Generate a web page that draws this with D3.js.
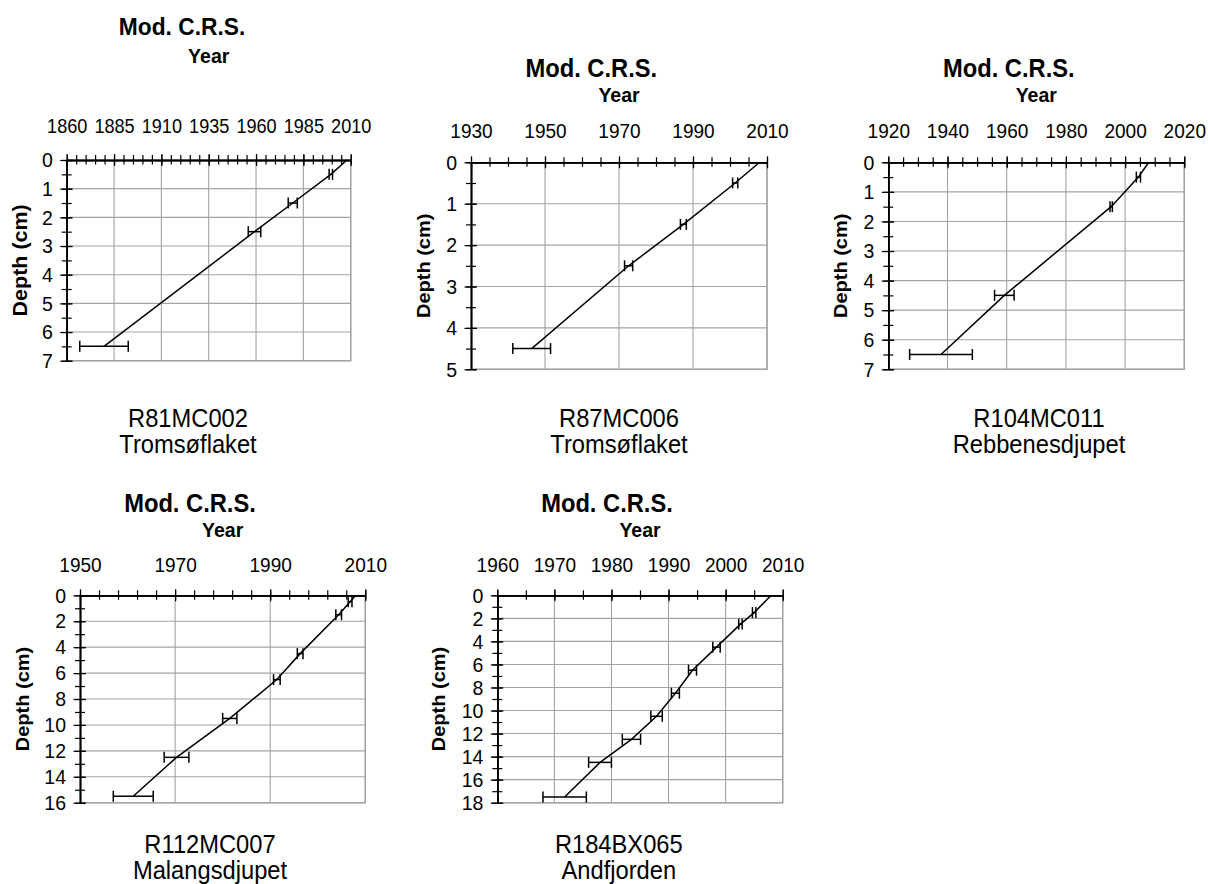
<!DOCTYPE html>
<html>
<head>
<meta charset="utf-8">
<script src="https://cdn.jsdelivr.net/npm/d3@7"></script>
<style>
  html, body { margin: 0; padding: 0; background: #fff; }
  svg { display: block; font-family: "Liberation Sans", Arial, Helvetica, sans-serif; }
</style>
</head>
<body>
<svg id="chart" width="1208" height="884"></svg>
<script>
// ---- Cores and sites ----
const cores = ["R81MC002", "R87MC006", "R104MC011", "R112MC007", "R184BX065"];
const sites = ["Tromsøflaket", "Tromsøflaket", "Rebbenesdjupet", "Malangsdjupet", "Andfjorden"];

// ---- Modified CRS age-depth models: slice mid-depth (cm), year AD, ± error (yr) ----
const depthR81 = [0, 0.5, 1.5, 2.5, 6.5];
const yearR81  = [2008, 1999.5, 1979.4, 1959.2, 1879.7];
const errR81   = [0, 0.9, 2.4, 3.3, 12.8];

const depthR87 = [0, 0.5, 1.5, 2.5, 4.5];
const yearR87  = [2008, 2001.4, 1987.4, 1972.6, 1946.4];
const errR87   = [0, 0.7, 0.8, 1.1, 5.1];

const depthR104 = [0, 0.5, 1.5, 4.5, 6.5];
const yearR104  = [2008, 2004.5, 1995.3, 1959.2, 1937.8];
const errR104   = [0, 0.7, 0.4, 3.3, 10.6];

const depthR112 = [0, 0.5, 1.5, 4.5, 6.5, 9.5, 12.5, 15.5];
const yearR112  = [2008, 2006.8, 2004.4, 1996.3, 1991.4, 1981.5, 1970.3, 1961.2];
const errR112   = [0, 0.4, 0.6, 0.6, 0.7, 1.5, 2.6, 4.2];

const depthR184 = [0, 1.5, 2.5, 4.5, 6.5, 8.5, 10.5, 12.5, 14.5, 17.5];
const yearR184  = [2008, 2005, 2002.6, 1998.4, 1994.2, 1991.2, 1987.9, 1983.5, 1978, 1971.8];
const errR184   = [0, 0.3, 0.3, 0.65, 0.7, 0.7, 1.0, 1.6, 2.0, 3.8];

// ---- Year-axis tick labels and minor step ----
const yearTicksR81  = [1860, 1885, 1910, 1935, 1960, 1985, 2010];
const yearTicksR87  = [1930, 1950, 1970, 1990, 2010];
const yearTicksR104 = [1920, 1940, 1960, 1980, 2000, 2020];
const yearTicksR112 = [1950, 1970, 1990, 2010];
const yearTicksR184 = [1960, 1970, 1980, 1990, 2000, 2010];
const yearMinorStep = [5, 5, 5, 4, 5];

// ---- Depth-axis tick labels and minor step ----
const depthTicksR81  = [0, 1, 2, 3, 4, 5, 6, 7];
const depthTicksR87  = [0, 1, 2, 3, 4, 5];
const depthTicksR104 = [0, 1, 2, 3, 4, 5, 6, 7];
const depthTicksR112 = [0, 2, 4, 6, 8, 10, 12, 14, 16];
const depthTicksR184 = [0, 2, 4, 6, 8, 10, 12, 14, 16, 18];
const depthMinorStep = [0.5, 0.5, 0.5, 1, 1];

const titleText = "Mod. C.R.S.";
const xTitleText = "Year";
const yTitleText = "Depth (cm)";

// ---- Panel layout (plot box and text anchors, px) ----
const layout = [
  { x0: 66.7,  x1: 350.7,  y0: 160,   y1: 360.7, titleX: 182,    titleY: 35,  yearY: 63,  tickY: 133, ylabX: 19.5,  labX: 188,   labY: 427, titleSize: 24.5, ylabSize: 21.5, tickSize: 19.5 },
  { x0: 471,   x1: 767,    y0: 162.3, y1: 369.3, titleX: 591.3,  titleY: 77,  yearY: 102, tickY: 138, ylabX: 423.3, labX: 619,   labY: 427, titleSize: 25.5, ylabSize: 20,   tickSize: 20.5 },
  { x0: 888.3, x1: 1184.3, y0: 162.3, y1: 369.3, titleX: 1008.8, titleY: 77,  yearY: 102, tickY: 138, ylabX: 840.5, labX: 1039,  labY: 427, titleSize: 25.5, ylabSize: 20,   tickSize: 20.5 },
  { x0: 80,    x1: 365.3,  y0: 595.3, y1: 802.7, titleX: 190,    titleY: 512, yearY: 537, tickY: 572, ylabX: 22,    labX: 210,   labY: 853, titleSize: 25.5, ylabSize: 20,   tickSize: 20.5 },
  { x0: 497.3, x1: 782.7,  y0: 595.3, y1: 802.7, titleX: 607,    titleY: 512, yearY: 537, tickY: 572, ylabX: 438,   labX: 618.8, labY: 853, titleSize: 25.5, ylabSize: 20,   tickSize: 20.5 }
];

// Text is set slightly condensed horizontally
const SX = 0.93;

const series = [
  { depth: depthR81,  year: yearR81,  err: errR81,  yTicks: yearTicksR81,  dTicks: depthTicksR81 },
  { depth: depthR87,  year: yearR87,  err: errR87,  yTicks: yearTicksR87,  dTicks: depthTicksR87 },
  { depth: depthR104, year: yearR104, err: errR104, yTicks: yearTicksR104, dTicks: depthTicksR104 },
  { depth: depthR112, year: yearR112, err: errR112, yTicks: yearTicksR112, dTicks: depthTicksR112 },
  { depth: depthR184, year: yearR184, err: errR184, yTicks: yearTicksR184, dTicks: depthTicksR184 }
];

const GRID = "#a3a3a3";
const FONT = '"Liberation Sans", Arial, Helvetica, sans-serif';
const svg = d3.select("#chart");

function stepRange(a, b, s) {
  const out = [];
  const n = Math.round((b - a) / s);
  for (let i = 0; i <= n; i++) out.push(+(a + i * s).toFixed(4));
  return out;
}

function label(g, x, y, txt, size, bold) {
  return g.append("text")
    .attr("transform", `translate(${x},${y}) scale(${SX},1)`)
    .attr("text-anchor", "middle")
    .attr("font-weight", bold ? "bold" : "normal")
    .attr("font-size", size)
    .attr("fill", "#000")
    .text(txt);
}

series.forEach((s, i) => {
  const L = layout[i];
  const g = svg.append("g");

  const x = d3.scaleLinear()
    .domain([s.yTicks[0], s.yTicks[s.yTicks.length - 1]])
    .range([L.x0, L.x1]);
  const y = d3.scaleLinear()
    .domain([s.dTicks[0], s.dTicks[s.dTicks.length - 1]])
    .range([L.y0, L.y1]);

  const yearMinor = stepRange(x.domain()[0], x.domain()[1], yearMinorStep[i]);
  const depthMinor = stepRange(y.domain()[0], y.domain()[1], depthMinorStep[i]);

  // gridlines
  g.append("g").selectAll("line").data(s.yTicks.slice(1)).join("line")
    .attr("x1", d => x(d)).attr("x2", d => x(d))
    .attr("y1", L.y0).attr("y2", L.y1)
    .attr("stroke", GRID).attr("stroke-width", 1.1);
  g.append("g").selectAll("line").data(s.dTicks.slice(1)).join("line")
    .attr("x1", L.x0).attr("x2", L.x1)
    .attr("y1", d => y(d)).attr("y2", d => y(d))
    .attr("stroke", GRID).attr("stroke-width", 1.1);

  // right and bottom plot border
  g.append("path")
    .attr("d", `M${L.x1},${L.y0}V${L.y1}H${L.x0}`)
    .attr("fill", "none").attr("stroke", GRID).attr("stroke-width", 1.4);

  // crossing tick marks on the year axis (top): minor then major
  const yearAxes = [
    d3.axisTop(x).tickValues(yearMinor).tickSize(5),
    d3.axisBottom(x).tickValues(yearMinor).tickSize(4.5),
    d3.axisTop(x).tickValues(s.yTicks).tickSize(6),
    d3.axisBottom(x).tickValues(s.yTicks).tickSize(6)
  ];
  yearAxes.forEach(ax => {
    const a = g.append("g").attr("transform", `translate(0,${L.y0})`)
      .call(ax.tickSizeOuter(0).tickFormat(""));
    a.select(".domain").attr("stroke", "#000").attr("stroke-width", 1.4);
    a.selectAll(".tick line").attr("stroke", "#000").attr("stroke-width", 1.2);
  });
  // year labels
  const topLab = g.append("g").attr("transform", `translate(0,${L.y0})`)
    .call(d3.axisTop(x).tickValues(s.yTicks).tickSize(0).tickPadding(L.y0 - L.tickY).tickFormat(d3.format("d")));
  topLab.select(".domain").remove();
  topLab.selectAll("text").attr("font-size", L.tickSize).attr("fill", "#000")
    .attr("font-family", FONT).attr("transform", `scale(${SX},1)`);

  // crossing tick marks on the depth axis (left): minor then major
  const depthAxes = [
    d3.axisLeft(y).tickValues(depthMinor).tickSize(5),
    d3.axisRight(y).tickValues(depthMinor).tickSize(5),
    d3.axisLeft(y).tickValues(s.dTicks).tickSize(6.5),
    d3.axisRight(y).tickValues(s.dTicks).tickSize(6)
  ];
  depthAxes.forEach(ax => {
    const a = g.append("g").attr("transform", `translate(${L.x0},0)`)
      .call(ax.tickSizeOuter(0).tickFormat(""));
    a.select(".domain").attr("stroke", "#000").attr("stroke-width", 1.4);
    a.selectAll(".tick line").attr("stroke", "#000").attr("stroke-width", 1.2);
  });
  const leftLab = g.append("g").attr("transform", `translate(${L.x0},0)`)
    .call(d3.axisLeft(y).tickValues(s.dTicks).tickSize(0).tickPadding(15).tickFormat(d3.format("d")));
  leftLab.select(".domain").remove();
  leftLab.selectAll("text").attr("font-size", 21).attr("fill", "#000")
    .attr("font-family", FONT).attr("transform", `scale(${SX},1)`);

  // age-depth line
  const pts = s.depth.map((d, k) => ({ d, yr: s.year[k], e: s.err[k] }));
  g.append("path").datum(pts)
    .attr("d", d3.line().x(p => x(p.yr)).y(p => y(p.d)))
    .attr("fill", "none").attr("stroke", "#000").attr("stroke-width", 1.5);

  // error bars
  const eb = g.append("g").attr("stroke", "#000").attr("stroke-width", 1.5);
  pts.filter(p => p.e > 0).forEach(p => {
    const yy = y(p.d), xa = x(p.yr - p.e), xb = x(p.yr + p.e);
    eb.append("line").attr("x1", xa).attr("x2", xb).attr("y1", yy).attr("y2", yy);
    eb.append("line").attr("x1", xa).attr("x2", xa).attr("y1", yy - 5.5).attr("y2", yy + 5.5);
    eb.append("line").attr("x1", xb).attr("x2", xb).attr("y1", yy - 5.5).attr("y2", yy + 5.5);
  });

  // titles
  label(g, L.titleX, L.titleY, titleText, L.titleSize, true);
  label(g, (L.x0 + L.x1) / 2, L.yearY, xTitleText, 21, true);
  g.append("text")
    .attr("transform", `translate(${L.ylabX},${(L.y0 + L.y1) / 2}) scale(${SX},1) rotate(-90)`)
    .attr("text-anchor", "middle").attr("dy", "0.35em")
    .attr("font-weight", "bold").attr("font-size", L.ylabSize)
    .text(yTitleText);

  // core label
  label(g, L.labX, L.labY, cores[i], 25.5, false);
  label(g, L.labX, L.labY + 26, sites[i], 25.5, false);
});
</script>
</body>
</html>
